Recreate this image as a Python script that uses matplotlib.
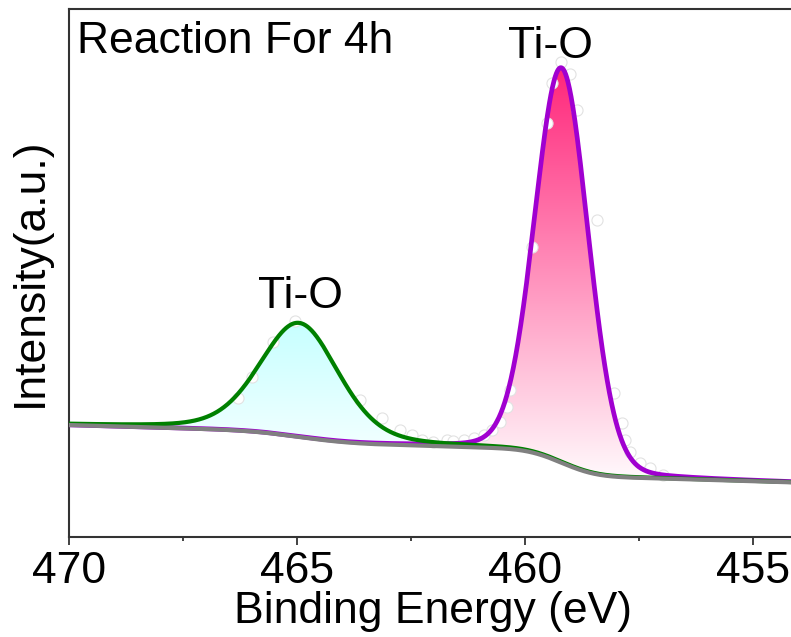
import numpy as np
import matplotlib
matplotlib.use("Agg")
import matplotlib.pyplot as plt
from matplotlib.colors import LinearSegmentedColormap
from matplotlib.ticker import MultipleLocator
from matplotlib.patches import PathPatch
from math import erf

plt.rcParams['font.family'] = ['Liberation Sans', 'DejaVu Sans']

# ---- data ----
# fitted components: Ti-O (Ti 2p1/2) and Ti-O (Ti 2p3/2)
peak_centers = [464.95, 459.20]      # eV
peak_heights = [21.6, 74.8]          # a.u. above background
peak_fwhm = [2.05, 1.38]             # eV
peak_lorentz = [0.30, 0.10]          # Lorentzian fraction of GL shape
peak_labels = ["Ti-O", "Ti-O"]
label_pos_x = [464.93, 459.45]
label_pos_y = [43.4, 90.7]

# Shirley-type background
bg_low = 10.31       # intensity at 454 eV
bg_low_e = 454.0
bg_slope = 0.25      # per eV
bg_steps = [2.0, 4.9]

# raw data points (visible open circles)
raw_e = [465.04, 465.52, 465.99, 466.29, 463.62, 463.14, 462.74, 462.48, 462.27,
         462.01, 461.72, 461.57, 461.35, 461.13, 460.91, 460.73, 460.55, 460.40,
         460.33, 459.85, 459.52, 459.41, 459.21, 459.01, 458.87, 458.43, 458.06,
         457.88, 457.81, 457.70, 457.48, 457.26, 456.97]
raw_i = [40.97, 36.99, 30.36, 26.27, 25.95, 22.48, 20.27, 19.32, 18.37,
         18.05, 18.37, 18.24, 18.37, 18.69, 19.32, 20.27, 21.84, 24.68,
         27.84, 54.98, 78.35, 85.93, 90.02, 87.69, 80.87, 60.04, 27.22,
         21.53, 18.37, 16.16, 13.96, 13.01, 11.74]

xticks_major = [470, 465, 460, 455]
xlim = (470, 454.17)
ylim = (0, 100)

# ---- model curves ----
E = np.linspace(453.5, 470.5, 2001)

def gl(x, c, h, f, m):
    d = (x - c) / f
    return h * ((1 - m) * np.exp(-4 * np.log(2) * d ** 2) + m / (1 + 4 * d ** 2))

def cum_gauss(x, c, f):
    s = f / 2.3548
    return 0.5 * (1 + np.vectorize(erf)((x - c) / (s * np.sqrt(2))))

bg = bg_low + bg_slope * (E - bg_low_e)
for c, f, st in zip(peak_centers, peak_fwhm, bg_steps):
    bg = bg + st * cum_gauss(E, c, f)

comps = [bg + gl(E, c, h, f, m) for c, h, f, m in
         zip(peak_centers, peak_heights, peak_fwhm, peak_lorentz)]

# ---- figure ----
fig = plt.figure(figsize=(7.91, 6.37), dpi=100)
ax = fig.add_axes([69 / 791, 100 / 637, 722 / 791, 528 / 637])

line_colors = ["#008000", "#a000d0"]
line_widths = [3.0, 3.4]
line_z = [3.2, 3.0]
fill_top = [(0.78, 1.0, 1.0), (1.0, 0.15, 0.48)]
fill_bot = [(0.95, 1.0, 1.0), (1.0, 0.98, 0.99)]

for comp, ct, cb in zip(comps, fill_top, fill_bot):
    poly = ax.fill_between(E, bg, comp, facecolor='none', edgecolor='none')
    path = poly.get_paths()[0]
    patch = PathPatch(path, transform=ax.transData, facecolor='none',
                      edgecolor='none')
    ax.add_patch(patch)
    mask = (comp - bg) > 0.3
    ymin = bg[mask].min()
    ymax = comp.max()
    cmap = LinearSegmentedColormap.from_list('g', [cb, ct])
    grad = np.linspace(0, 1, 256).reshape(-1, 1)
    im = ax.imshow(grad, aspect='auto', cmap=cmap, origin='lower',
                   extent=[E.min(), E.max(), ymin, ymax], zorder=1,
                   interpolation='bilinear')
    im.set_clip_path(patch)

ax.plot(raw_e, raw_i, 'o', ms=8, mfc='white', mec='#e2e2e2', mew=0.8, zorder=2)

for comp, lc, lw, z in zip(comps, line_colors, line_widths, line_z):
    ax.plot(E, comp, color=lc, lw=lw, zorder=z, solid_capstyle='round')
ax.plot(E, bg, color='#808080', lw=3.0, zorder=4)

for lx, ly, lt in zip(label_pos_x, label_pos_y, peak_labels):
    ax.text(lx, ly, lt, fontsize=32, ha='center', va='baseline', zorder=6)

ax.text(0.011, 0.917, "Reaction For 4h", transform=ax.transAxes,
        fontsize=32, ha='left', va='baseline', zorder=6)

ax.set_xlim(*xlim)
ax.set_ylim(*ylim)
ax.set_xticks(xticks_major)
ax.xaxis.set_minor_locator(MultipleLocator(2.5))
ax.set_yticks([])
ax.tick_params(axis='x', which='major', direction='out', length=6, width=1.3,
               labelsize=32, pad=4, color='#333333')
ax.tick_params(axis='x', which='minor', direction='out', length=3, width=1.3,
               color='#333333')
for side in ['left', 'bottom', 'top']:
    ax.spines[side].set_linewidth(1.5)
    ax.spines[side].set_color('#333333')
ax.spines['right'].set_visible(False)

ax.set_xlabel("Binding Energy (eV)", fontsize=32)
ax.xaxis.label.set_va('baseline')
ax.xaxis.set_label_coords(0.504, -0.163)
ax.set_ylabel("Intensity(a.u.)", fontsize=32)
ax.yaxis.label.set_va('center')
ax.yaxis.set_label_coords(-0.054, 0.502)

fig.savefig("out.png", dpi=100)
